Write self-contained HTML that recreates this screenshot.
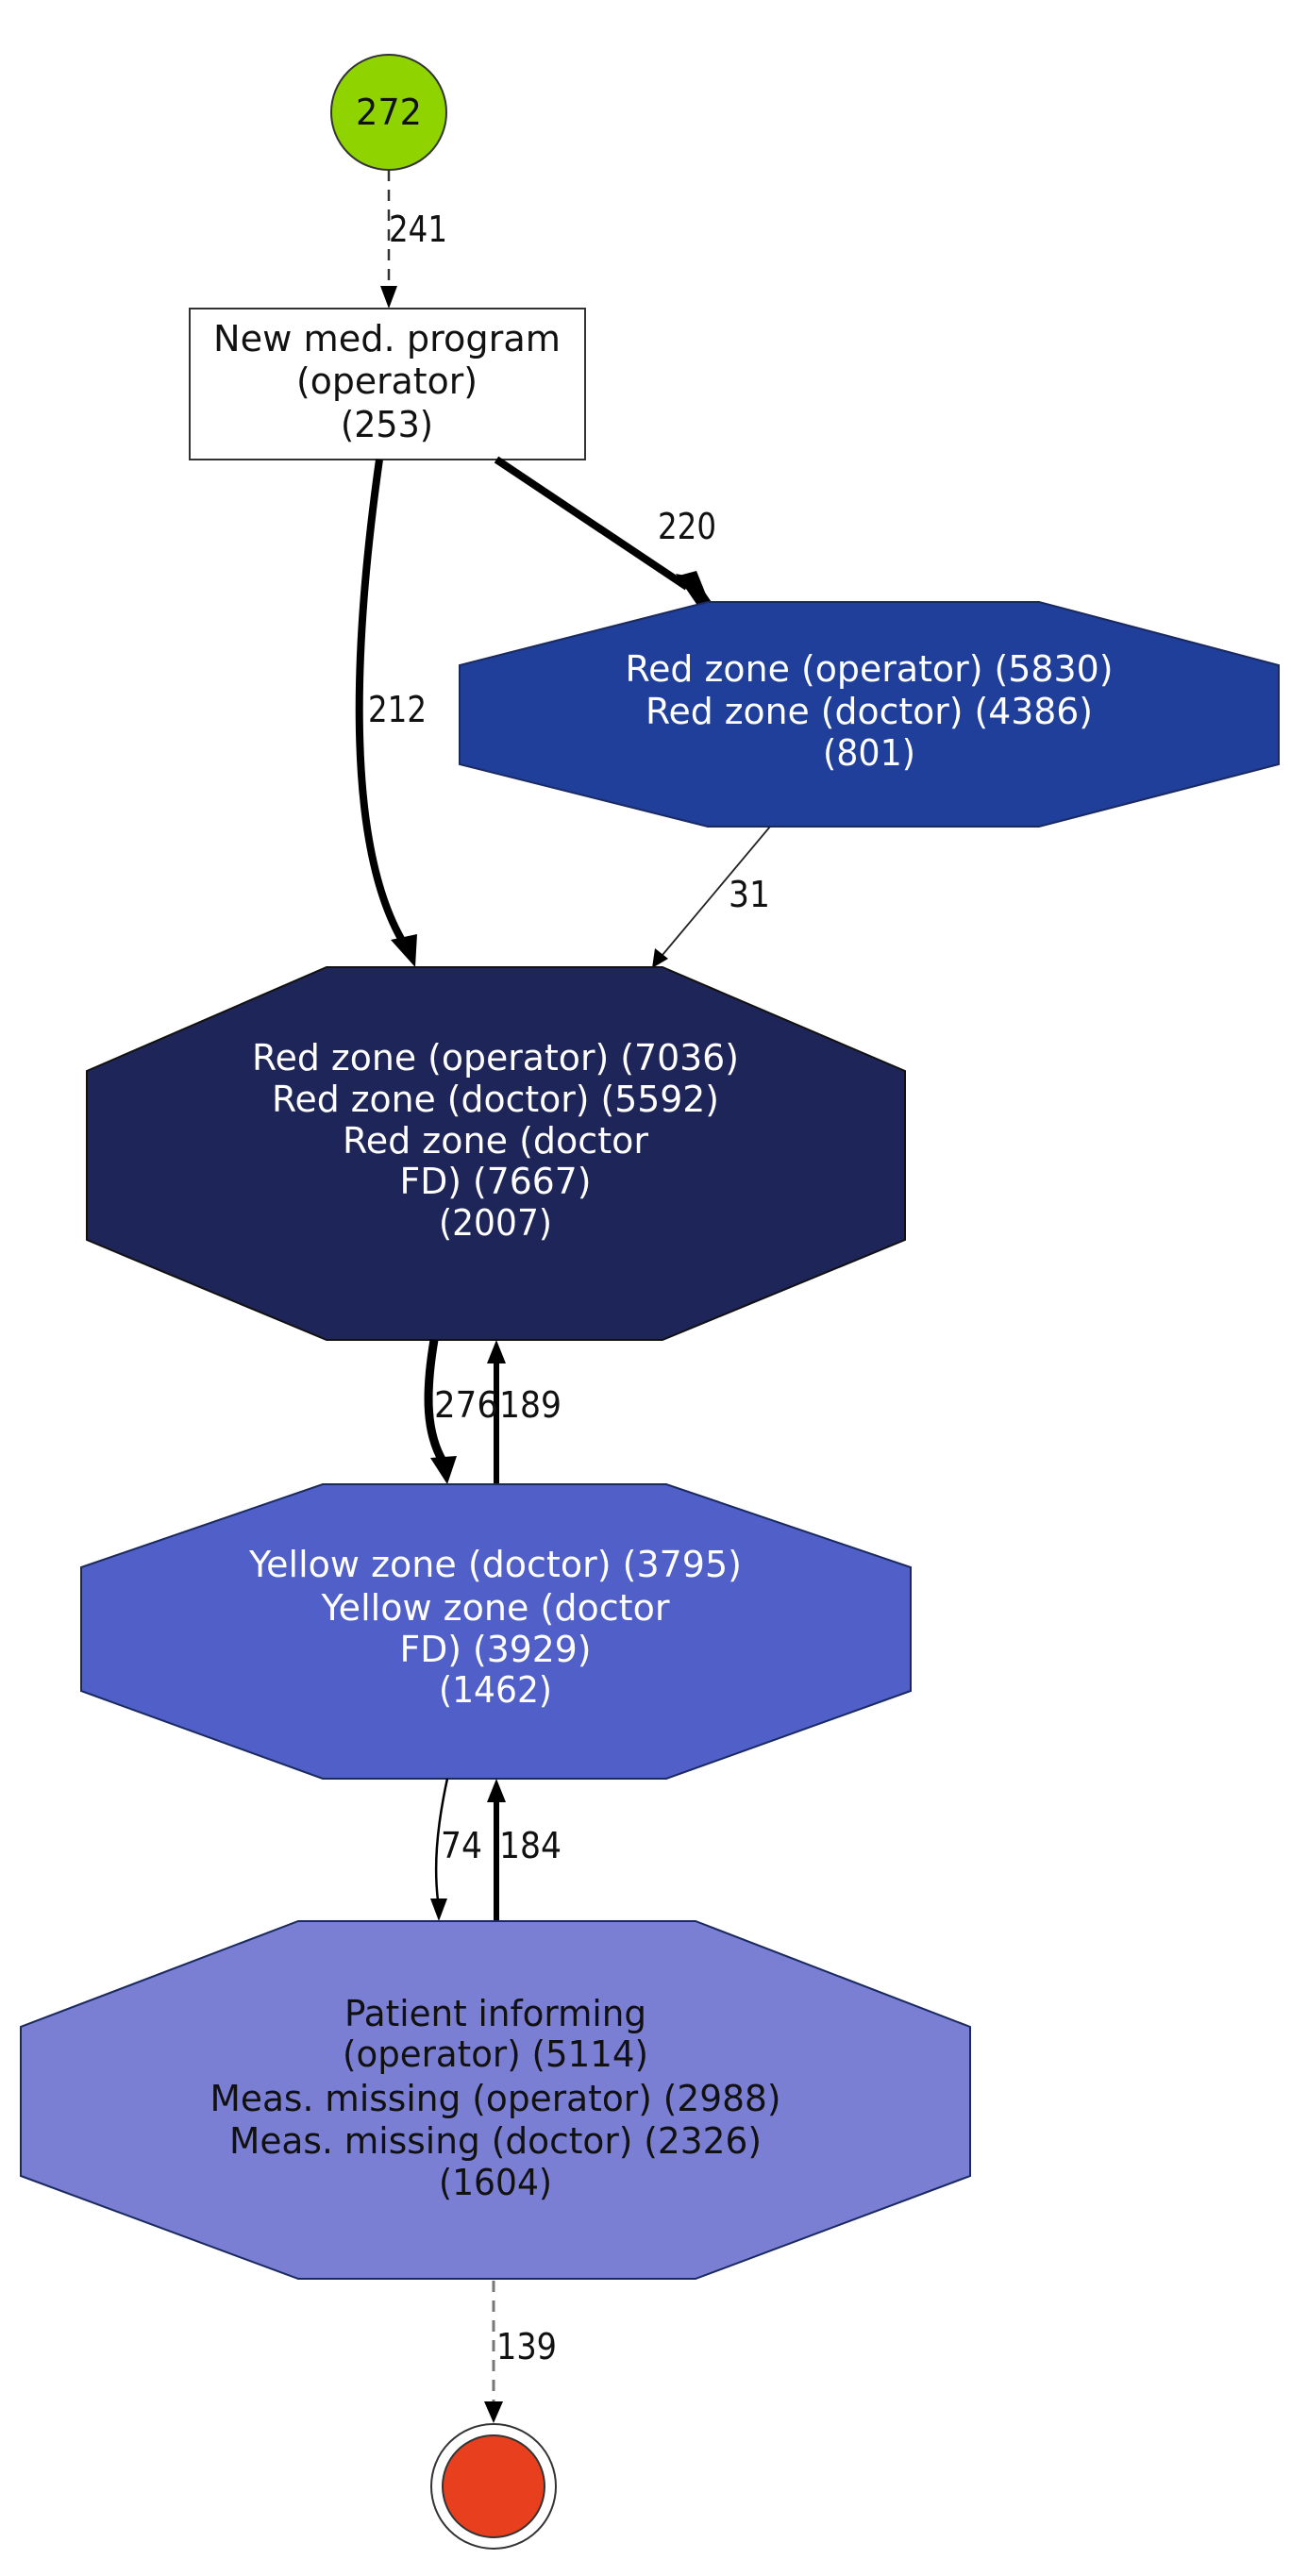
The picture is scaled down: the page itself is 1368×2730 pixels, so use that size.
<!DOCTYPE html>
<html><head><meta charset="utf-8"><style>
html,body{margin:0;padding:0;background:#fff;}
svg{display:block;}
text{font-family:"DejaVu Sans","Liberation Sans",sans-serif;font-size:38px;}
</style></head><body>
<svg width="1368" height="2730" viewBox="0 0 1368 2730" xmlns="http://www.w3.org/2000/svg">
<!-- start node -->
<circle cx="412" cy="119" r="61" fill="#8fd400" stroke="#333" stroke-width="2"/>
<text x="412" y="132" text-anchor="middle" fill="#111" textLength="70" lengthAdjust="spacingAndGlyphs">272</text>
<!-- edge 241 -->
<line x1="412" y1="180" x2="412" y2="305" stroke="#333" stroke-width="2.5" stroke-dasharray="12,9"/>
<polygon points="403,303 421,303 412,327" fill="#000"/>
<text x="412" y="256" fill="#111" textLength="62" lengthAdjust="spacingAndGlyphs">241</text>
<!-- box -->
<rect x="201" y="327" width="419" height="160" fill="#fff" stroke="#333" stroke-width="2"/>
<text x="410" y="372" text-anchor="middle" fill="#111" textLength="368" lengthAdjust="spacingAndGlyphs">New med. program</text>
<text x="410" y="417" text-anchor="middle" fill="#111" textLength="192" lengthAdjust="spacingAndGlyphs">(operator)</text>
<text x="410" y="463" text-anchor="middle" fill="#111" textLength="98" lengthAdjust="spacingAndGlyphs">(253)</text>
<!-- edge 220 -->
<line x1="526" y1="487" x2="728" y2="622" stroke="#000" stroke-width="8"/>
<polygon points="716,608 740,643 756,641 736,612" fill="#000"/>
<polygon points="712,612 738,605 752,640" fill="#000"/>
<text x="697" y="571" fill="#111" textLength="62" lengthAdjust="spacingAndGlyphs">220</text>
<!-- edge 212 -->
<path d="M402,487 C372,700 368,900 428,1000" fill="none" stroke="#000" stroke-width="8"/>
<polygon points="414,996 442,990 440,1025" fill="#000"/>
<text x="390" y="765" fill="#111" textLength="62" lengthAdjust="spacingAndGlyphs">212</text>
<!-- blue node 1 -->
<polygon points="750,638 1101,638 1355,705 1355,810 1101,876 750,876 487,810 487,705" fill="#1f3f9b" stroke="#1a2a60" stroke-width="2"/>
<text x="921" y="722" text-anchor="middle" fill="#fff" textLength="517" lengthAdjust="spacingAndGlyphs">Red zone (operator) (5830)</text>
<text x="921" y="767" text-anchor="middle" fill="#fff" textLength="474" lengthAdjust="spacingAndGlyphs">Red zone (doctor) (4386)</text>
<text x="921" y="811" text-anchor="middle" fill="#fff" textLength="98" lengthAdjust="spacingAndGlyphs">(801)</text>
<!-- edge 31 -->
<line x1="816" y1="876" x2="702" y2="1012" stroke="#222" stroke-width="1.8"/>
<polygon points="694,1005 708,1016 691,1026" fill="#000"/>
<text x="772" y="961" fill="#111" textLength="44" lengthAdjust="spacingAndGlyphs">31</text>
<!-- dark node -->
<polygon points="346,1025 702,1025 959,1135 959,1314 702,1420 346,1420 92,1314 92,1135" fill="#1e2558" stroke="#111" stroke-width="2"/>
<text x="525" y="1134" text-anchor="middle" fill="#fff" textLength="516" lengthAdjust="spacingAndGlyphs">Red zone (operator) (7036)</text>
<text x="525" y="1178" text-anchor="middle" fill="#fff" textLength="474" lengthAdjust="spacingAndGlyphs">Red zone (doctor) (5592)</text>
<text x="525" y="1222" text-anchor="middle" fill="#fff" textLength="324" lengthAdjust="spacingAndGlyphs">Red zone (doctor</text>
<text x="525" y="1265" text-anchor="middle" fill="#fff" textLength="203" lengthAdjust="spacingAndGlyphs">FD) (7667)</text>
<text x="525" y="1309" text-anchor="middle" fill="#fff" textLength="120" lengthAdjust="spacingAndGlyphs">(2007)</text>
<!-- edge 276 -->
<path d="M460,1420 C450,1480 452,1520 470,1550" fill="none" stroke="#000" stroke-width="9"/>
<polygon points="456,1545 484,1543 474,1573" fill="#000"/>
<!-- edge 189 -->
<line x1="526" y1="1573" x2="526" y2="1442" stroke="#000" stroke-width="6"/>
<polygon points="516,1445 536,1445 526,1420" fill="#000"/>
<text x="460" y="1502" fill="#111" textLength="68" lengthAdjust="spacingAndGlyphs">276</text>
<text x="529" y="1502" fill="#111" textLength="66" lengthAdjust="spacingAndGlyphs">189</text>
<!-- yellow node -->
<polygon points="342,1573 706,1573 965,1661 965,1792 706,1885 342,1885 86,1792 86,1661" fill="#5060c8" stroke="#1a2a60" stroke-width="2"/>
<text x="525" y="1671" text-anchor="middle" fill="#fff" textLength="522" lengthAdjust="spacingAndGlyphs">Yellow zone (doctor) (3795)</text>
<text x="525" y="1717" text-anchor="middle" fill="#fff" textLength="369" lengthAdjust="spacingAndGlyphs">Yellow zone (doctor</text>
<text x="525" y="1761" text-anchor="middle" fill="#fff" textLength="203" lengthAdjust="spacingAndGlyphs">FD) (3929)</text>
<text x="525" y="1804" text-anchor="middle" fill="#fff" textLength="120" lengthAdjust="spacingAndGlyphs">(1462)</text>
<!-- edge 74 -->
<path d="M474,1885 C462,1940 460,1980 464,2014" fill="none" stroke="#000" stroke-width="2.5"/>
<polygon points="456,2012 474,2012 465,2036" fill="#000"/>
<!-- edge 184 -->
<line x1="526" y1="2036" x2="526" y2="1908" stroke="#000" stroke-width="6"/>
<polygon points="516,1910 536,1910 526,1885" fill="#000"/>
<text x="467" y="1969" fill="#111" textLength="44" lengthAdjust="spacingAndGlyphs">74</text>
<text x="529" y="1969" fill="#111" textLength="66" lengthAdjust="spacingAndGlyphs">184</text>
<!-- patient node -->
<polygon points="316,2036 737,2036 1028,2148 1028,2306 737,2415 316,2415 22,2306 22,2148" fill="#7b7fd4" stroke="#1a2a60" stroke-width="2"/>
<text x="525" y="2147" text-anchor="middle" fill="#111" textLength="320" lengthAdjust="spacingAndGlyphs">Patient informing</text>
<text x="525" y="2190" text-anchor="middle" fill="#111" textLength="324" lengthAdjust="spacingAndGlyphs">(operator) (5114)</text>
<text x="525" y="2237" text-anchor="middle" fill="#111" textLength="605" lengthAdjust="spacingAndGlyphs">Meas. missing (operator) (2988)</text>
<text x="525" y="2282" text-anchor="middle" fill="#111" textLength="564" lengthAdjust="spacingAndGlyphs">Meas. missing (doctor) (2326)</text>
<text x="525" y="2326" text-anchor="middle" fill="#111" textLength="120" lengthAdjust="spacingAndGlyphs">(1604)</text>
<!-- edge 139 -->
<line x1="523" y1="2417" x2="523" y2="2548" stroke="#777" stroke-width="3" stroke-dasharray="12,9"/>
<polygon points="513,2545 533,2545 523,2568" fill="#000"/>
<text x="526" y="2500" fill="#111" textLength="64" lengthAdjust="spacingAndGlyphs">139</text>
<!-- end node -->
<circle cx="523" cy="2635" r="66" fill="#fff" stroke="#333" stroke-width="2"/>
<circle cx="523" cy="2635" r="54" fill="#e8401f" stroke="#333" stroke-width="2"/>
</svg>
</body></html>
